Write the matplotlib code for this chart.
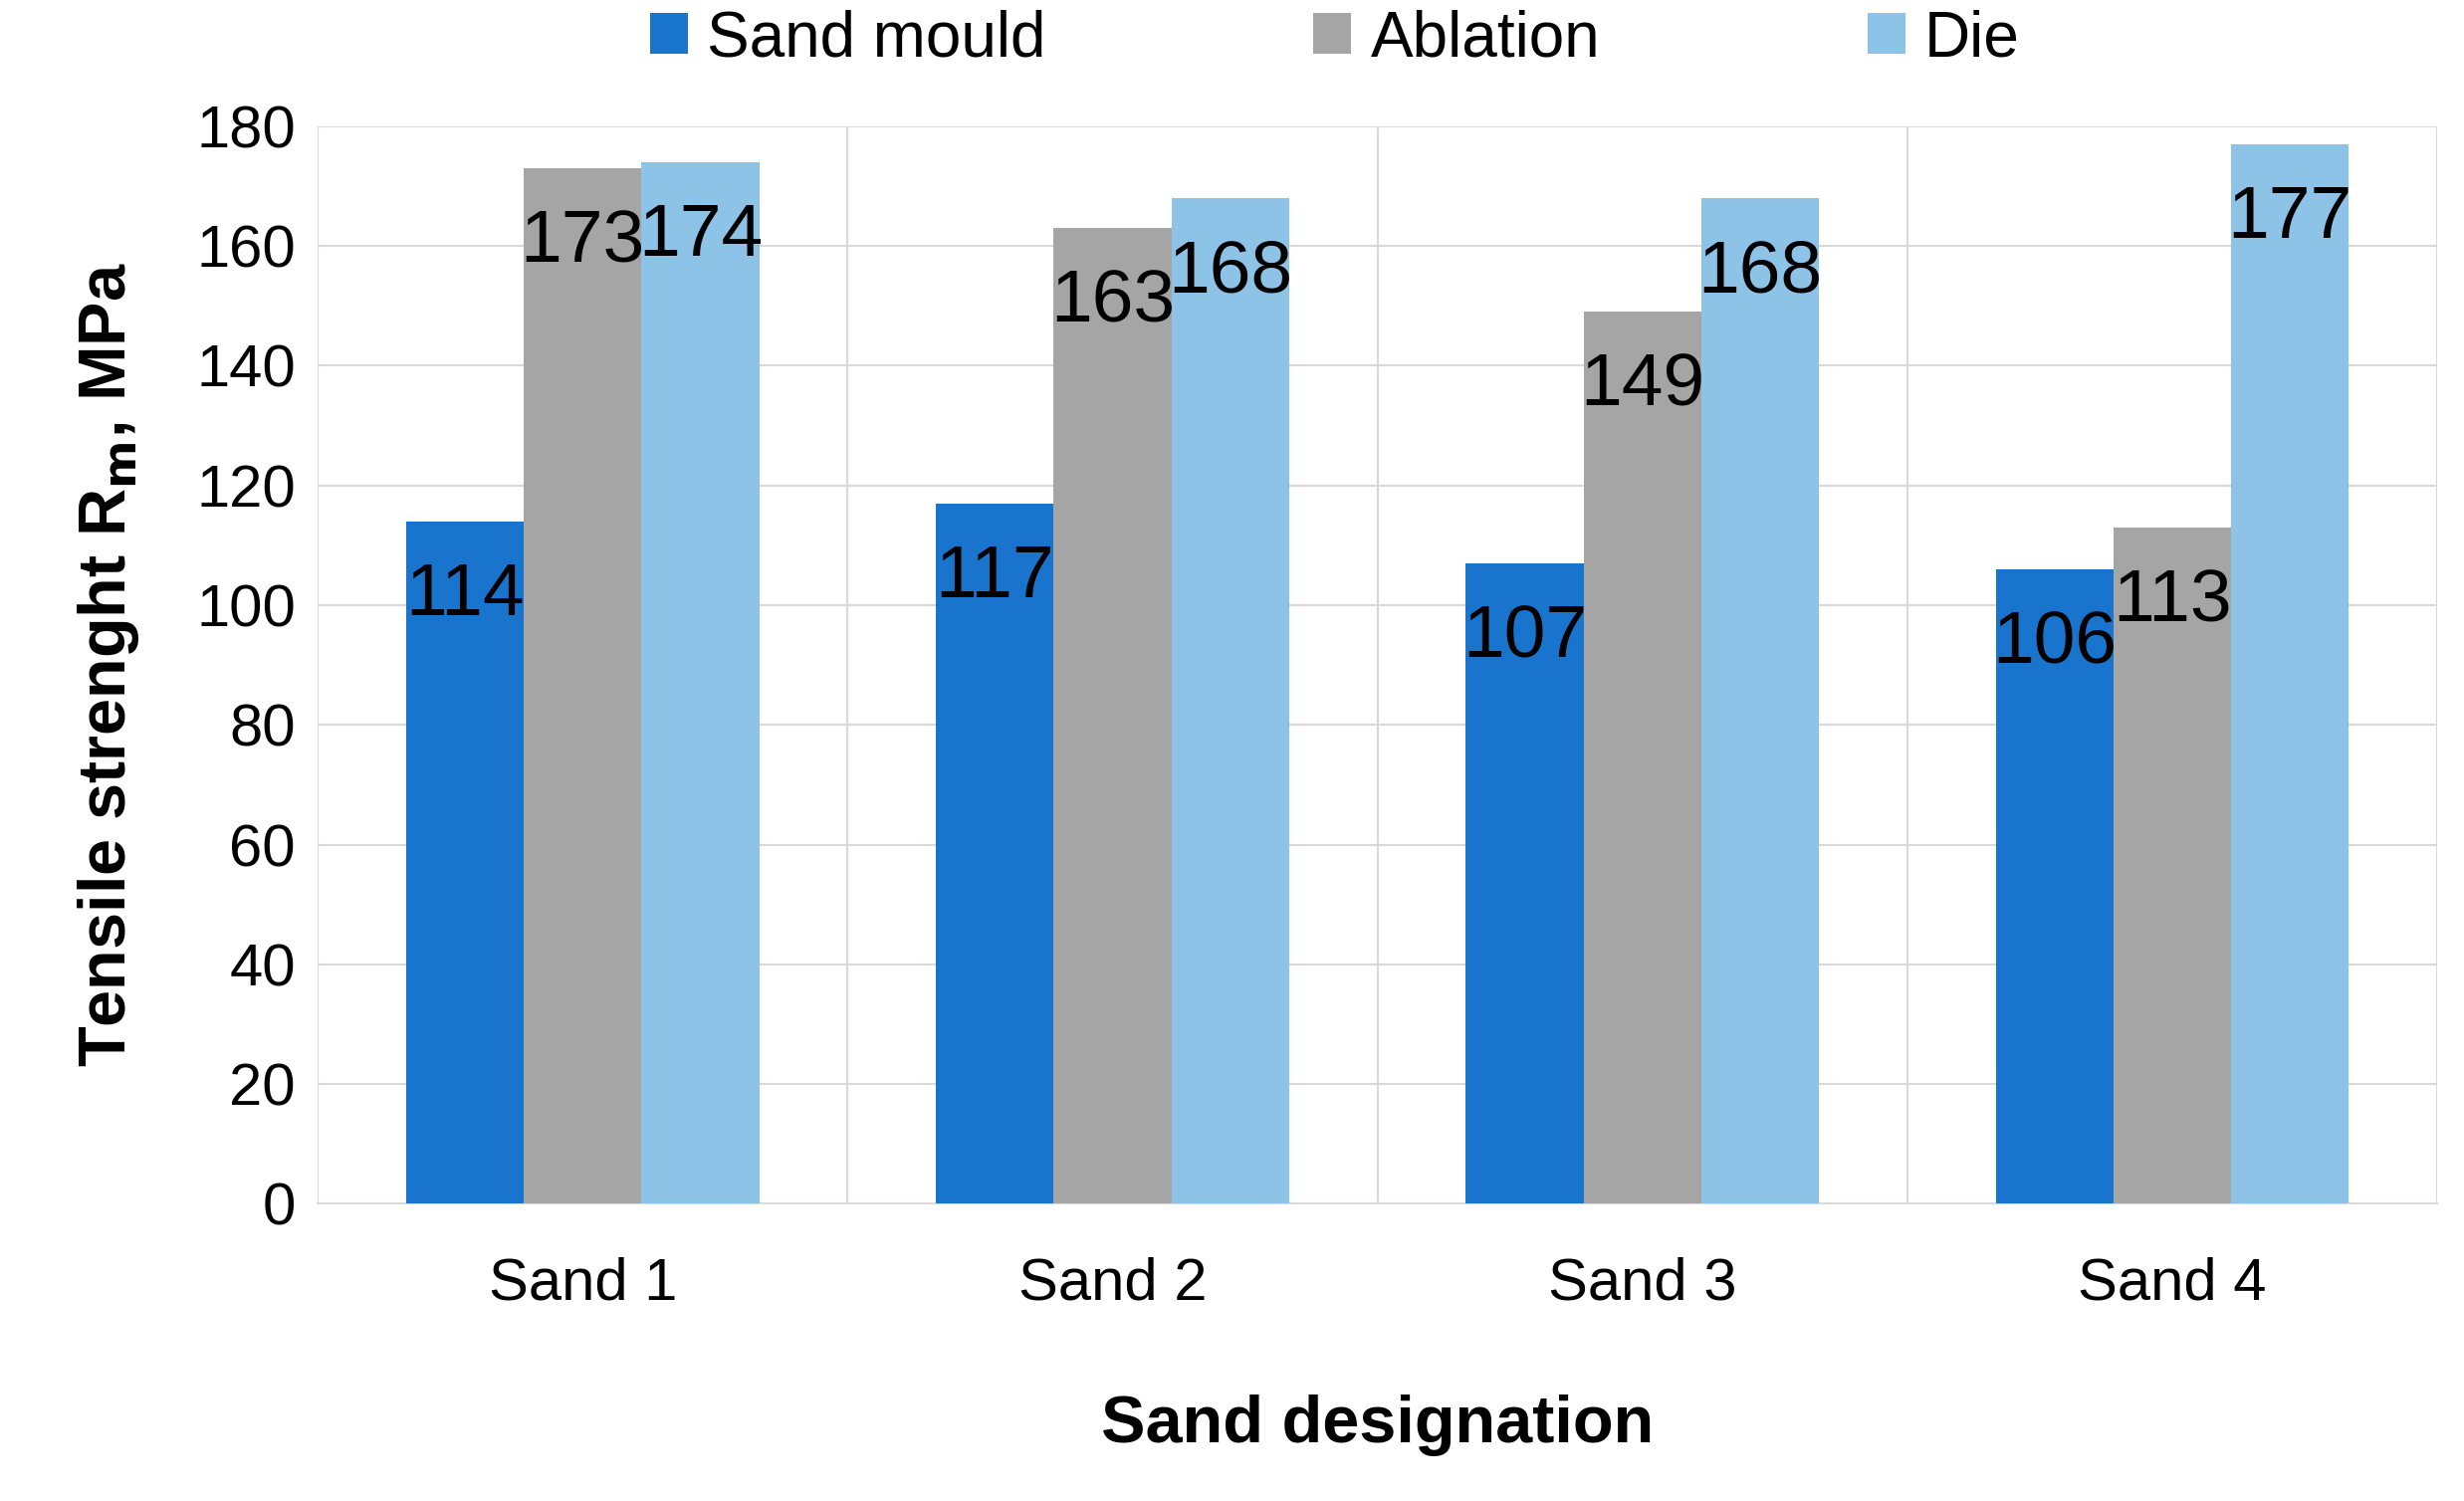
import matplotlib.pyplot as plt
import numpy as np

plt.rcParams['font.family'] = ['Liberation Sans', 'DejaVu Sans']

categorias = ['Sand 1', 'Sand 2', 'Sand 3', 'Sand 4']
series = ['Sand mould', 'Ablation', 'Die']
sand_mould = [114, 117, 107, 106]
ablation = [173, 163, 149, 113]
die = [174, 168, 168, 177]
cores = ['#1874CD', '#A5A5A5', '#8EC3E8']

fig = plt.figure(figsize=(24.75, 15.08), dpi=100)
ax = fig.add_axes([0.129, 0.198, 0.86, 0.718])

x = np.arange(len(categorias))
largura = 0.222
for i, (valores, nome) in enumerate(zip([sand_mould, ablation, die], series)):
    pos = x + (i - 1) * largura
    ax.bar(pos, valores, largura, color=cores[i], label=nome, zorder=3)
    for p, v in zip(pos, valores):
        ax.text(p, v - 12.5, str(v), ha='center', va='center', fontsize=54, zorder=4)

ax.set_xlim(-0.5, 3.5)
ax.set_ylim(0, 180)
ax.set_yticks(range(0, 181, 20))
ax.set_xticks(x)
ax.set_xticklabels(categorias)
ax.tick_params(axis='both', labelsize=43, length=0, pad=16)
ax.tick_params(axis='x', pad=38)

ax.grid(axis='y', color='#D9D9D9', linewidth=1.5, zorder=0)
for b in np.arange(-0.5, 3.6, 1):
    ax.axvline(b, color='#D9D9D9', linewidth=1.5, zorder=0)
for lado in ['top', 'right', 'left']:
    ax.spines[lado].set_visible(False)
ax.spines['bottom'].set_color('#D9D9D9')
ax.spines['bottom'].set_linewidth(1.5)

ax.set_xlabel('Sand designation', fontsize=48, fontweight='bold', labelpad=60)
ax.set_ylabel(r'Tensile strenght R$_\mathbf{m}$, MPa', fontsize=48, fontweight='bold', labelpad=40)

ax.legend(loc='lower center', bbox_to_anchor=(0.48, 1.0), ncol=3, frameon=False,
          fontsize=46, handlelength=0.6, handleheight=0.6, columnspacing=4.2, handletextpad=0.3)

fig.savefig('out.png')
